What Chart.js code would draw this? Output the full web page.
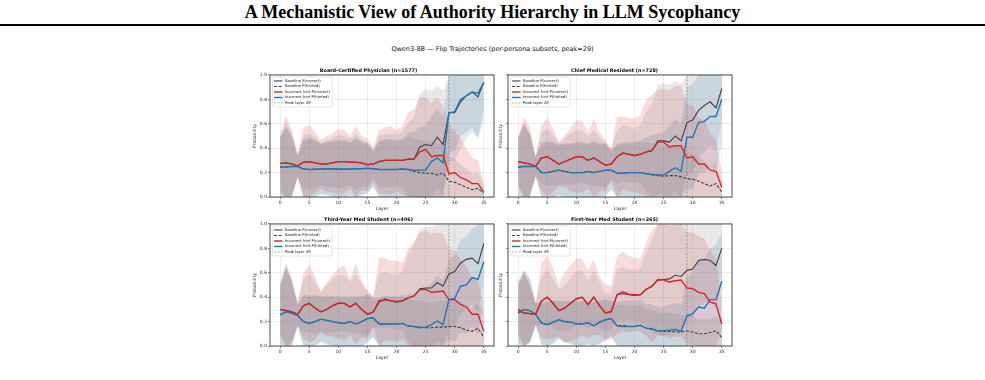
<!DOCTYPE html>
<html>
<head>
<meta charset="utf-8">
<script src="https://cdn.jsdelivr.net/npm/chart.js@4.4.1/dist/chart.umd.min.js"></script>
<style>
  html, body { margin: 0; padding: 0; background: #fff; width: 985px; height: 380px; overflow: hidden; }
  body { position: relative; }
  .page-title { position: absolute; left: 0; top: 1px; width: 985px; text-align: center;
    font: bold 18px "Liberation Serif", "DejaVu Serif", serif; line-height: 22px; color: #000; }
  .rule { position: absolute; left: 0; top: 24px; width: 985px; height: 2px; background: #000; }
  .suptitle { position: absolute; left: 0; top: 45px; width: 985px; text-align: center;
    font: 6.5px "DejaVu Sans", sans-serif; color: #111; }
  canvas { position: absolute; }
</style>
</head>
<body>
<div class="page-title">A Mechanistic View of Authority Hierarchy in LLM Sycophancy</div>
<div class="rule"></div>
<div class="suptitle">Qwen3-8B — Flip Trajectories (per-persona subsets, peak=29)</div>
<canvas id="c1" width="255" height="150" style="left:243px;top:62px"></canvas>
<canvas id="c2" width="240" height="150" style="left:497px;top:62px"></canvas>
<canvas id="c3" width="255" height="150" style="left:243px;top:211px"></canvas>
<canvas id="c4" width="240" height="150" style="left:497px;top:211px"></canvas>
<script>
const layers = [0,1,2,3,4,5,6,7,8,9,10,11,12,13,14,15,16,17,18,19,20,21,22,23,24,25,26,27,28,29,30,31,32,33,34,35];
const xTicks = [0,5,10,15,20,25,30,35];
const yTicks = [0,0.2,0.4,0.6,0.8,1.0];
const yTickLabels = ['0.0','0.2','0.4','0.6','0.8','1.0'];
const peakLayer = 29;
const seriesNames = ['Baseline P(correct)','Baseline P(hinted)','Incorrect hint P(correct)','Incorrect hint P(hinted)','Peak layer 29'];
const panelTitles = ['Board-Certified Physician (n=1577)','Chief Medical Resident (n=728)','Third-Year Med Student (n=406)','First-Year Med Student (n=265)'];

// Board-Certified Physician
const physBaseCorrect = [0.275,0.28,0.27,0.255,0.285,0.29,0.28,0.27,0.27,0.28,0.29,0.29,0.285,0.285,0.28,0.265,0.27,0.29,0.30,0.30,0.30,0.30,0.31,0.31,0.41,0.43,0.42,0.49,0.43,0.69,0.69,0.78,0.83,0.86,0.82,0.94];
const physBaseCorrectSd = [0.22,0.33,0.25,0.09,0.22,0.23,0.21,0.17,0.19,0.2,0.22,0.21,0.19,0.23,0.19,0.18,0.12,0.21,0.22,0.22,0.21,0.23,0.3,0.34,0.44,0.45,0.45,0.42,0.44,0.4,0.4,0.38,0.35,0.33,0.33,0.2];
const physBaseHinted = [0.245,0.245,0.25,0.25,0.23,0.225,0.228,0.23,0.232,0.23,0.23,0.228,0.23,0.232,0.232,0.235,0.232,0.225,0.225,0.225,0.225,0.23,0.225,0.21,0.20,0.195,0.195,0.18,0.195,0.13,0.12,0.10,0.08,0.06,0.07,0.03];
const physBaseHintedSd = [0.24,0.32,0.24,0.09,0.23,0.25,0.23,0.2,0.21,0.22,0.23,0.23,0.21,0.24,0.21,0.2,0.14,0.23,0.24,0.24,0.23,0.24,0.27,0.27,0.27,0.26,0.26,0.25,0.26,0.2,0.19,0.17,0.15,0.13,0.13,0.07];
const physHintCorrect = [0.275,0.28,0.27,0.255,0.285,0.29,0.28,0.27,0.27,0.28,0.29,0.29,0.285,0.285,0.28,0.265,0.27,0.29,0.30,0.30,0.30,0.30,0.31,0.31,0.37,0.39,0.33,0.34,0.34,0.19,0.20,0.16,0.14,0.11,0.11,0.04];
const physHintCorrectSd = [0.245,0.39,0.28,0.095,0.285,0.30,0.25,0.20,0.23,0.24,0.27,0.26,0.215,0.295,0.22,0.215,0.14,0.26,0.27,0.28,0.25,0.28,0.38,0.41,0.45,0.43,0.44,0.48,0.40,0.41,0.34,0.32,0.26,0.21,0.19,0.06];
const physHintHinted = [0.245,0.245,0.25,0.25,0.23,0.225,0.228,0.23,0.232,0.23,0.23,0.228,0.23,0.232,0.232,0.235,0.232,0.225,0.225,0.225,0.225,0.23,0.225,0.22,0.22,0.22,0.29,0.32,0.28,0.69,0.70,0.80,0.83,0.86,0.85,0.94];
const physHintHintedSd = [0.25,0.33,0.25,0.09,0.24,0.26,0.24,0.21,0.22,0.23,0.24,0.24,0.22,0.25,0.22,0.21,0.15,0.24,0.25,0.25,0.24,0.25,0.3,0.32,0.35,0.36,0.38,0.4,0.38,0.33,0.32,0.3,0.3,0.29,0.38,0.3];

// Chief Medical Resident
const chiefBaseCorrect = [0.29,0.28,0.27,0.25,0.32,0.33,0.30,0.27,0.29,0.31,0.33,0.33,0.30,0.32,0.29,0.26,0.27,0.33,0.36,0.35,0.34,0.35,0.37,0.38,0.46,0.46,0.45,0.50,0.46,0.61,0.63,0.71,0.75,0.78,0.73,0.89];
const chiefBaseCorrectSd = [0.19,0.33,0.25,0.08,0.21,0.23,0.21,0.17,0.19,0.21,0.22,0.21,0.2,0.23,0.2,0.18,0.13,0.22,0.23,0.23,0.22,0.24,0.33,0.38,0.46,0.47,0.47,0.45,0.47,0.42,0.42,0.4,0.38,0.36,0.36,0.25];
const chiefBaseHinted = [0.245,0.25,0.25,0.25,0.20,0.20,0.21,0.22,0.21,0.20,0.20,0.20,0.21,0.20,0.21,0.22,0.22,0.195,0.195,0.20,0.20,0.20,0.19,0.18,0.175,0.17,0.175,0.175,0.165,0.15,0.145,0.13,0.11,0.09,0.11,0.04];
const chiefBaseHintedSd = [0.23,0.34,0.26,0.08,0.23,0.25,0.23,0.2,0.22,0.23,0.24,0.24,0.22,0.25,0.22,0.21,0.15,0.23,0.24,0.24,0.24,0.25,0.26,0.26,0.26,0.25,0.25,0.25,0.24,0.22,0.21,0.2,0.18,0.16,0.17,0.08];
const chiefHintCorrect = [0.29,0.28,0.27,0.25,0.32,0.33,0.30,0.27,0.29,0.31,0.33,0.33,0.30,0.32,0.29,0.26,0.27,0.33,0.36,0.35,0.34,0.35,0.37,0.38,0.45,0.45,0.41,0.42,0.42,0.32,0.33,0.27,0.27,0.22,0.21,0.08];
const chiefHintCorrectSd = [0.20,0.38,0.30,0.08,0.27,0.32,0.26,0.18,0.21,0.26,0.30,0.29,0.23,0.32,0.24,0.21,0.13,0.33,0.30,0.30,0.30,0.32,0.43,0.46,0.43,0.43,0.46,0.49,0.49,0.44,0.42,0.38,0.36,0.30,0.26,0.12];
const chiefHintHinted = [0.245,0.25,0.25,0.25,0.20,0.20,0.21,0.22,0.21,0.20,0.20,0.20,0.21,0.20,0.21,0.22,0.22,0.195,0.195,0.20,0.20,0.20,0.19,0.185,0.18,0.18,0.21,0.24,0.21,0.49,0.49,0.61,0.62,0.66,0.66,0.80];
const chiefHintHintedSd = [0.24,0.36,0.27,0.08,0.24,0.26,0.24,0.21,0.23,0.24,0.25,0.25,0.23,0.26,0.23,0.22,0.16,0.24,0.25,0.25,0.25,0.26,0.3,0.32,0.34,0.35,0.37,0.4,0.38,0.42,0.43,0.42,0.42,0.41,0.44,0.36];

// Third-Year Med Student
const thirdBaseCorrect = [0.30,0.29,0.28,0.26,0.33,0.35,0.31,0.28,0.30,0.33,0.35,0.35,0.32,0.35,0.30,0.26,0.28,0.37,0.38,0.37,0.36,0.37,0.395,0.41,0.47,0.475,0.475,0.52,0.49,0.59,0.61,0.68,0.71,0.72,0.675,0.84];
const thirdBaseCorrectSd = [0.2,0.34,0.24,0.09,0.22,0.24,0.21,0.17,0.2,0.22,0.23,0.23,0.21,0.24,0.21,0.18,0.13,0.22,0.23,0.22,0.22,0.24,0.36,0.42,0.49,0.5,0.5,0.48,0.5,0.45,0.45,0.42,0.4,0.38,0.4,0.3];
const thirdBaseHinted = [0.255,0.28,0.27,0.25,0.20,0.185,0.20,0.22,0.21,0.20,0.19,0.185,0.20,0.18,0.20,0.225,0.23,0.18,0.185,0.18,0.18,0.185,0.165,0.16,0.155,0.15,0.15,0.155,0.155,0.16,0.16,0.15,0.13,0.12,0.145,0.07];
const thirdBaseHintedSd = [0.24,0.36,0.27,0.09,0.21,0.22,0.21,0.18,0.19,0.2,0.21,0.21,0.2,0.22,0.2,0.19,0.15,0.21,0.22,0.22,0.22,0.22,0.22,0.22,0.22,0.21,0.21,0.22,0.22,0.22,0.22,0.21,0.2,0.19,0.2,0.22];
const thirdHintCorrect = [0.30,0.29,0.28,0.26,0.33,0.35,0.31,0.28,0.30,0.33,0.35,0.35,0.32,0.35,0.30,0.26,0.28,0.36,0.385,0.37,0.365,0.37,0.395,0.41,0.46,0.465,0.44,0.445,0.45,0.38,0.38,0.34,0.32,0.26,0.26,0.12];
const thirdHintCorrectSd = [0.22,0.39,0.26,0.09,0.27,0.32,0.26,0.16,0.22,0.25,0.29,0.31,0.23,0.33,0.23,0.2,0.12,0.37,0.335,0.33,0.335,0.31,0.405,0.44,0.47,0.485,0.48,0.485,0.47,0.42,0.4,0.37,0.33,0.3,0.28,0.2];
const thirdHintHinted = [0.255,0.28,0.27,0.25,0.20,0.185,0.20,0.22,0.21,0.20,0.19,0.185,0.20,0.18,0.20,0.225,0.23,0.18,0.18,0.18,0.18,0.185,0.165,0.16,0.15,0.155,0.175,0.205,0.175,0.38,0.39,0.49,0.50,0.56,0.545,0.69];
const thirdHintHintedSd = [0.25,0.38,0.28,0.09,0.22,0.23,0.22,0.19,0.2,0.21,0.22,0.22,0.21,0.23,0.21,0.2,0.16,0.22,0.23,0.23,0.23,0.23,0.26,0.27,0.3,0.32,0.34,0.37,0.36,0.33,0.35,0.38,0.4,0.4,0.45,0.33];

// First-Year Med Student
const firstBaseCorrect = [0.29,0.27,0.265,0.26,0.37,0.40,0.35,0.29,0.31,0.35,0.39,0.40,0.34,0.40,0.33,0.27,0.285,0.42,0.43,0.42,0.415,0.42,0.465,0.49,0.54,0.545,0.55,0.58,0.57,0.62,0.63,0.70,0.71,0.70,0.66,0.80];
const firstBaseCorrectSd = [0.2,0.32,0.22,0.09,0.2,0.22,0.2,0.17,0.19,0.21,0.22,0.22,0.2,0.22,0.19,0.16,0.15,0.21,0.22,0.21,0.21,0.22,0.3,0.38,0.45,0.46,0.46,0.44,0.46,0.4,0.4,0.38,0.36,0.33,0.35,0.3];
const firstBaseHinted = [0.27,0.30,0.29,0.26,0.19,0.175,0.195,0.215,0.20,0.195,0.18,0.18,0.19,0.165,0.195,0.215,0.225,0.165,0.17,0.16,0.16,0.17,0.145,0.14,0.125,0.12,0.12,0.115,0.115,0.125,0.115,0.10,0.10,0.11,0.125,0.07];
const firstBaseHintedSd = [0.25,0.31,0.26,0.09,0.17,0.18,0.17,0.15,0.16,0.17,0.18,0.18,0.17,0.19,0.17,0.16,0.14,0.17,0.17,0.17,0.17,0.17,0.16,0.16,0.15,0.15,0.15,0.15,0.14,0.14,0.13,0.12,0.12,0.11,0.12,0.14];
const firstHintCorrect = [0.30,0.27,0.265,0.26,0.37,0.40,0.35,0.29,0.31,0.35,0.385,0.40,0.34,0.40,0.33,0.27,0.28,0.42,0.445,0.425,0.42,0.42,0.465,0.49,0.545,0.54,0.525,0.535,0.54,0.475,0.47,0.44,0.43,0.36,0.345,0.18];
const firstHintCorrectSd = [0.2,0.35,0.235,0.09,0.31,0.34,0.29,0.21,0.29,0.31,0.335,0.31,0.28,0.31,0.24,0.23,0.22,0.32,0.325,0.315,0.3,0.3,0.385,0.46,0.46,0.46,0.46,0.46,0.46,0.46,0.46,0.46,0.45,0.42,0.375,0.18];
const firstHintHinted = [0.27,0.30,0.29,0.26,0.19,0.175,0.195,0.215,0.20,0.195,0.18,0.18,0.19,0.165,0.195,0.215,0.225,0.165,0.16,0.16,0.16,0.17,0.145,0.14,0.12,0.125,0.13,0.135,0.12,0.245,0.265,0.32,0.31,0.38,0.38,0.53];
const firstHintHintedSd = [0.26,0.32,0.27,0.09,0.18,0.19,0.18,0.16,0.17,0.18,0.19,0.19,0.18,0.2,0.18,0.17,0.15,0.2,0.21,0.21,0.21,0.21,0.2,0.2,0.2,0.2,0.21,0.22,0.21,0.32,0.34,0.38,0.4,0.42,0.45,0.4];

const grayLine = '#3f3f3f';
const redLine = '#d62728';
const blueLine = '#1f77b4';

function pts(arr) {
  return layers.map((l, i) => ({ x: l, y: arr[i] }));
}

// mean +/- sd band, clipped to [0, 1]
function band(mean, sd, fillColor) {
  const lo = mean.map((m, i) => Math.max(0, m - sd[i]));
  const hi = mean.map((m, i) => Math.min(1, m + sd[i]));
  return [
    { data: pts(lo), borderWidth: 0, pointRadius: 0, fill: false, order: 10 },
    { data: pts(hi), borderWidth: 0, pointRadius: 0, fill: '-1', backgroundColor: fillColor, order: 10 }
  ];
}

// axes frame on all four sides
const frame = {
  id: 'frame',
  afterDatasetsDraw(chart) {
    const { ctx, chartArea: a } = chart;
    ctx.save();
    ctx.strokeStyle = '#3a3a3a';
    ctx.lineWidth = 0.9;
    ctx.strokeRect(a.left, a.top, a.right - a.left, a.bottom - a.top);
    ctx.restore();
  }
};

// small boxed legend in the upper left of the plot
const cornerLegend = {
  id: 'cornerLegend',
  afterDraw(chart) {
    const { ctx, chartArea: a } = chart;
    const items = chart.data.datasets.filter(d => d.label);
    ctx.save();
    ctx.font = '3.8px "DejaVu Sans"';
    let tw = 0;
    items.forEach(d => { tw = Math.max(tw, ctx.measureText(d.label).width); });
    const x = a.left + 2.5, y = a.top + 2, rowH = 5.5;
    const w = 12.5 + tw + 2, h = items.length * rowH + 2.5;
    ctx.fillStyle = 'rgba(255,255,255,0.8)';
    ctx.strokeStyle = '#cccccc';
    ctx.lineWidth = 0.5;
    ctx.beginPath();
    ctx.roundRect(x, y, w, h, 1.5);
    ctx.fill();
    ctx.stroke();
    items.forEach((d, i) => {
      const cy = y + 1.25 + rowH * (i + 0.5);
      ctx.strokeStyle = d.borderColor;
      ctx.lineWidth = d.borderWidth;
      ctx.setLineDash(d.borderDash || []);
      ctx.beginPath();
      ctx.moveTo(x + 1.5, cy);
      ctx.lineTo(x + 10, cy);
      ctx.stroke();
      ctx.setLineDash([]);
      ctx.fillStyle = '#111';
      ctx.textBaseline = 'middle';
      ctx.fillText(d.label, x + 12.5, cy);
    });
    ctx.restore();
  }
};

function makePanel(id, title, bc, bcSd, bh, bhSd, hc, hcSd, hh, hhSd, showYLabels) {
  const datasets = [
    { label: seriesNames[0], data: pts(bc), borderColor: grayLine, borderWidth: 1.1, order: 2 },
    { label: seriesNames[1], data: pts(bh), borderColor: grayLine, borderWidth: 1.1, borderDash: [3, 1.6], order: 2 },
    { label: seriesNames[2], data: pts(hc), borderColor: redLine, borderWidth: 1.4, order: 1 },
    { label: seriesNames[3], data: pts(hh), borderColor: blueLine, borderWidth: 1.4, order: 1 },
    { label: seriesNames[4], data: [{ x: peakLayer, y: 0 }, { x: peakLayer, y: 1 }],
      borderColor: 'rgba(110,110,110,0.75)', borderWidth: 0.8, borderDash: [2, 1.5], order: 3 },
    ...band(bc, bcSd, 'rgba(100,100,100,0.15)'),
    ...band(bh, bhSd, 'rgba(100,100,100,0.15)'),
    ...band(hc, hcSd, 'rgba(214,39,40,0.16)'),
    ...band(hh, hhSd, 'rgba(31,119,180,0.16)')
  ];
  const tickFont = { size: 4.5, family: 'DejaVu Sans' };
  new Chart(document.getElementById(id), {
    type: 'line',
    data: { datasets },
    options: {
      responsive: false,
      animation: false,
      events: [],
      elements: { point: { radius: 0 }, line: { tension: 0 } },
      layout: { padding: { left: 0, right: showYLabels ? 4 : 5, top: 0, bottom: 0 } },
      scales: {
        x: {
          type: 'linear', min: -1.75, max: 36.75,
          afterBuildTicks: s => { s.ticks = xTicks.map(v => ({ value: v })); },
          afterFit: s => { s.height = 15; },
          grid: { color: 'rgba(160,160,160,0.3)', lineWidth: 0.6, tickColor: '#333', tickLength: 2 },
          border: { display: false },
          ticks: { font: tickFont, color: '#222', padding: 1, maxRotation: 0, autoSkip: false },
          title: { display: true, text: 'Layer', font: tickFont, color: '#222', padding: { top: 0, bottom: 0.5 } }
        },
        y: {
          type: 'linear', min: 0, max: 1,
          afterBuildTicks: s => { s.ticks = yTicks.map(v => ({ value: v })); },
          afterFit: s => { s.width = showYLabels ? 27 : 11; },
          grid: { color: 'rgba(160,160,160,0.3)', lineWidth: 0.6, tickColor: '#333', tickLength: 2 },
          border: { display: false },
          ticks: { font: tickFont, color: '#222', padding: 1,
            callback: (v, i) => showYLabels ? yTickLabels[i] : '' },
          title: { display: true, text: 'Probability', font: tickFont, color: '#222',
            padding: { top: showYLabels ? 9.5 : 1.4, bottom: 0 } }
        }
      },
      plugins: {
        legend: { display: false },
        tooltip: { enabled: false },
        title: { display: true, text: title, color: '#000',
          font: { size: 4.9, weight: 'bold', family: 'DejaVu Sans' }, padding: { top: 5.5, bottom: 1.6 } }
      }
    },
    plugins: [frame, cornerLegend]
  });
}

makePanel('c1', panelTitles[0], physBaseCorrect, physBaseCorrectSd, physBaseHinted, physBaseHintedSd,
  physHintCorrect, physHintCorrectSd, physHintHinted, physHintHintedSd, true);
makePanel('c2', panelTitles[1], chiefBaseCorrect, chiefBaseCorrectSd, chiefBaseHinted, chiefBaseHintedSd,
  chiefHintCorrect, chiefHintCorrectSd, chiefHintHinted, chiefHintHintedSd, false);
makePanel('c3', panelTitles[2], thirdBaseCorrect, thirdBaseCorrectSd, thirdBaseHinted, thirdBaseHintedSd,
  thirdHintCorrect, thirdHintCorrectSd, thirdHintHinted, thirdHintHintedSd, true);
makePanel('c4', panelTitles[3], firstBaseCorrect, firstBaseCorrectSd, firstBaseHinted, firstBaseHintedSd,
  firstHintCorrect, firstHintCorrectSd, firstHintHinted, firstHintHintedSd, false);
</script>
</body>
</html>
